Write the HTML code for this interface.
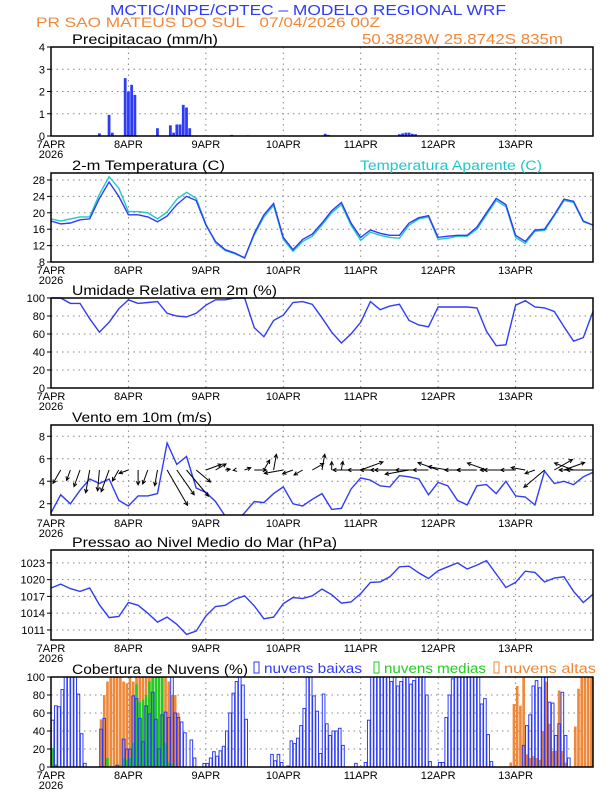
<!DOCTYPE html>
<html><head><meta charset="utf-8"><style>
html,body{margin:0;padding:0;background:#fff;width:612px;height:792px;overflow:hidden}
svg{display:block;font-family:"Liberation Sans",sans-serif}
</style></head><body>
<svg id="s" width="612" height="792" viewBox="0 0 612 792">
<defs><clipPath id="clipw"><rect x="51" y="425" width="542" height="90"/></clipPath></defs>
<text x="110" y="15" font-size="15" fill="#2f3cf5" textLength="396" lengthAdjust="spacingAndGlyphs">MCTIC/INPE/CPTEC &#8211; MODELO REGIONAL WRF</text>
<text x="36" y="27" font-size="14" fill="#f0883a" textLength="344" lengthAdjust="spacingAndGlyphs">PR SAO MATEUS DO SUL&#160;&#160;&#160;07/04/2026 00Z</text>
<text x="362" y="44" font-size="15" fill="#f0883a" textLength="201" lengthAdjust="spacingAndGlyphs">50.3828W 25.8742S 835m</text>
</svg>
<script>
const precipHours=[12,15,18,19,23,24,25,26,33,37,38,39,40,41,42,43,56,61,85,86,108,109,110,111,112,113,165];
const precipVals=[0.02,0.12,0.95,0.15,2.6,2.0,2.3,1.85,0.35,0.48,0.15,0.52,0.52,1.4,1.28,0.35,0.05,0.03,0.1,0.05,0.08,0.12,0.15,0.15,0.1,0.08,0.02];
const tempVals=[18,17.3,17.5,18.3,18.5,23.5,27.5,24,19.5,19.5,19,17.8,19.2,22,24,23,17,13,11,10.2,9,15,19.5,22.3,14,11,13.5,14.8,17.5,20.5,22.5,17.5,14,15.8,15,14.5,14.5,17.5,18.8,19.3,14,14.3,14.5,14.5,16.5,20,23.5,22,14.5,13,15.8,16,19.5,23.3,22.8,18,17];
const appTempVals=[18.5,18,18.5,19,19,24.5,28.8,26,20.3,20.3,20,18.5,20.2,23.3,25,23.5,17.3,12.7,10.8,10,9,14.6,19,21.8,13.5,10.6,13,14.3,17,20,22,17,13.3,15.3,14.5,14,13.8,17,18.5,19,13.5,13.8,14.3,14.3,16,19.5,23,21.5,14,12.5,15.5,15.7,19.3,23,22.5,17.8,17];
const humVals=[100,100,94,94,77,62,73,88,98,94,95,96,83,80,79,83,92,98,98,100,100,67,57,75,81,95,96,93,78,62,50,60,73,96,87,91,93,75,70,68,90,90,90,90,89,63,47,48,92,97,90,89,85,68,52,56,85];
const windSpd=[1.2,2.8,2.0,3.2,4.2,3.8,4.2,2.3,1.8,2.7,2.7,2.9,7.4,5.5,6.2,3.4,3.0,2.2,0.9,0.3,1.2,2.2,2.1,2.9,3.5,2.0,1.8,2.4,2.9,1.5,1.6,3.3,4.3,4.1,3.6,3.5,4.5,4.4,4.2,2.8,3.9,3.6,2.3,1.9,3.6,3.7,2.9,4.0,2.7,2.6,1.9,4.9,3.8,4.0,3.7,4.4,4.8];
const windDir=[200,240,250,250,260,265,250,240,200,270,250,260,-60,-55,-50,-40,20,30,10,190,20,0,60,80,190,200,210,30,80,90,80,180,20,180,180,180,180,190,180,180,160,170,180,180,180,160,180,180,180,170,200,220,30,20,160,180,180];
const presVals=[1018.5,1019.2,1018.4,1017.9,1018.5,1015.5,1013.2,1013.4,1015.9,1015.4,1014,1012.4,1013.3,1012,1010.2,1010.8,1013.5,1015.2,1015.4,1016.5,1017.1,1015.3,1013,1013.3,1015.7,1016.8,1016.6,1017.1,1018.3,1017.3,1015.8,1016,1017.5,1019.5,1019.6,1020.5,1022.3,1022.4,1021.2,1020.2,1021.6,1022.3,1023,1021.9,1022.6,1023.4,1021,1018.6,1019.5,1021.5,1021.3,1019.6,1020.3,1020.5,1017.9,1015.9,1017.4];
const lowCloud=[52,68,67,86,100,100,100,100,81,37,4,0,0,0,0,42,54,0,0,0,2,0,31,20,
20,79,76,54,28,68,59,83,53,20,58,61,55,100,60,55,50,38,0,30,10,0,0,4,
4,10,17,12,18,23,40,60,82,95,100,91,53,0,0,0,0,0,0,0,14,7,14,5,
0,1,29,26,32,46,65,100,100,79,62,15,81,48,35,40,40,43,24,0,0,0,4,0,
0,5,52,100,100,100,100,100,100,95,100,90,95,100,100,92,96,100,100,100,80,6,0,0,
5,5,55,80,98,100,100,100,100,100,100,100,100,70,76,36,6,0,0,0,0,0,0,0,
0,0,24,46,58,90,96,88,100,100,72,71,35,48,83,35,10,0,0,0,0,0,0,0];
const midCloud=[21,3,0,0,0,0,0,0,0,0,0,0,0,0,0,0,0,10,0,0,0,2,10,8,
10,27,92,72,75,80,95,100,100,100,100,27,5,3,0,0,0,0,0,0,0,0,0,0];
const highCloud=[0,0,0,0,0,0,0,0,0,0,0,0,0,0,0,53,80,95,100,100,100,100,95,93,
100,95,100,100,100,100,100,100,100,100,100,100,95,80,80,60,0,0,0,0,0,0,0,0,
0,0,0,0,0,0,0,0,0,0,0,0,0,0,0,0,0,0,0,0,0,0,0,0,
0,0,0,0,0,0,0,0,0,0,0,0,0,0,0,0,0,0,0,0,0,0,0,0,
0,0,0,0,0,0,0,0,0,0,0,0,0,0,0,0,0,0,0,0,0,0,0,0,
0,0,0,0,0,0,0,0,0,0,0,0,0,0,0,0,0,0,0,0,0,0,5,70,
90,68,100,14,10,12,10,8,40,95,48,18,18,85,18,5,0,0,45,87,100,100,100,100];
const dayLabels=["7APR","8APR","9APR","10APR","11APR","12APR","13APR"];

const NS="http://www.w3.org/2000/svg";
const svg=document.getElementById('s');
const X0=51,X1=593,HOURS=168;
const xh=h=>X0+h*(X1-X0)/HOURS;
function el(t,a,p){const e=document.createElementNS(NS,t);for(const k in a)e.setAttribute(k,a[k]);(p||svg).appendChild(e);return e;}
const BLUE="#2f3cf5";

function panel(name,top,bot,vmin,vmax,ticks,title,tlen){
  const g=el('g',{});
  
  
  const y=v=>bot-(v-vmin)/(vmax-vmin)*(bot-top);
  for(let d=1;d<7;d++){const l=el('line',{x1:xh(d*24),x2:xh(d*24),y1:top,y2:bot,stroke:'#888','stroke-dasharray':'1.5,4'},g);
    }
  ticks.forEach(t=>{
    if(t>vmin&&t<vmax){const l=el('line',{x1:X0,x2:X1,y1:y(t),y2:y(t),stroke:'#888','stroke-dasharray':'1.5,4'},g);
      }
    el('line',{x1:X0-4,x2:X0,y1:y(t),y2:y(t),stroke:'#000'},g);
    const tx=el('text',{x:X0-6,y:y(t)+4,'font-size':11,'text-anchor':'end'},g);tx.textContent=t;
    
  });
  dayLabels.forEach((d,i)=>{const tx=el('text',{x:xh(i*24),y:bot+12,'font-size':11,'text-anchor':'middle'},g);tx.textContent=d;
    });
  const yr=el('text',{x:X0,y:bot+22,'font-size':11,'text-anchor':'middle'},g);yr.textContent='2026';
  
  const ta={x:72,y:top-3,'font-size':13.5};
  if(tlen){ta.textLength=tlen;ta.lengthAdjust='spacingAndGlyphs';}
  const tt=el('text',ta,g);tt.textContent=title;
  
  const data=el('g',{},g);
  return {y,g,data,top,bot,finish(){const r=el('rect',{x:X0,y:top,width:X1-X0,height:bot-top,fill:'none',stroke:'#000','stroke-width':1.5},g);
    }};
}
function line(p,vals,step,color,name,parent){
  const pts=vals.map((v,i)=>xh(i*step).toFixed(1)+','+p.y(v).toFixed(1)).join(' ');
  const l=el('polyline',{points:pts,fill:'none',stroke:color,'stroke-width':1.4},parent||p.data);
  
}
// precipitation
const p1=panel('precipitation',47,136,0,4,[0,1,2,3,4],'Precipitacao (mm/h)',146);
precipHours.forEach((h,i)=>{const r=el('rect',{x:xh(h)-1.4,y:p1.y(precipVals[i]),width:2.8,height:p1.bot-p1.y(precipVals[i]),fill:BLUE},p1.data);
  });
p1.finish();
// temperature
const p2=panel('temperature',173,262,8,29.7,[8,12,16,20,24,28],'2-m Temperatura (C)',153);
line(p2,appTempVals,3,'#1ec8c8','apparent-temp-line');
line(p2,tempVals,3,BLUE,'temp-line');
p2.finish();
const at=el('text',{x:360,y:170,'font-size':13.5,fill:'#1ec8c8',textLength:182,lengthAdjust:'spacingAndGlyphs'});at.textContent='Temperatura Aparente (C)';

// humidity
const p3=panel('humidity',298,388,0,100,[0,20,40,60,80,100],'Umidade Relativa em 2m (%)',205);
line(p3,humVals,3,BLUE,'humidity-line');p3.finish();
// wind
const p4=panel('wind',425,515,1,9,[2,4,6,8],'Vento em 10m (m/s)',140);
const wclip=el('g',{'clip-path':'url(#clipw)'},p4.data);
line(p4,windSpd,3,BLUE,'wind-speed-line',wclip);
windSpd.forEach((s,i)=>{const x=xh(i*3),y=p4.y(5),L=s*5.5,a=windDir[i]*Math.PI/180;
  const x2=x+L*Math.cos(a),y2=y-L*Math.sin(a);
  const g=el('g',{},wclip);
  
  el('line',{x1:x,y1:y,x2:x2,y2:y2,stroke:'#000','stroke-width':1},g);
  const h1=a+Math.PI*0.85,h2=a-Math.PI*0.85;
  el('polyline',{points:`${x2+4*Math.cos(h1)},${y2-4*Math.sin(h1)} ${x2},${y2} ${x2+4*Math.cos(h2)},${y2-4*Math.sin(h2)}`,fill:'none',stroke:'#000','stroke-width':1},g);
});
p4.finish();
// pressure
const p5=panel('pressure',550,640,1009.2,1025.3,[1011,1014,1017,1020,1023],'Pressao ao Nivel Medio do Mar (hPa)',265);
line(p5,presVals,3,BLUE,'pressure-line');p5.finish();
// clouds
const p6=panel('cloud',677,767,0,100,[0,20,40,60,80,100],'Cobertura de Nuvens (%)',176);
const bw=(X1-X0)/HOURS;
function bars(vals,fill,stroke,name){vals.forEach((v,h)=>{if(v<=0)return;
  const r=el('rect',{x:xh(h)+0.3,y:p6.y(v),width:bw-0.6,height:p6.bot-p6.y(v),fill:fill,stroke:stroke,'stroke-width':1},p6.data);
  });}
bars(highCloud,'#f0883a','none','high-cloud-bar');
bars(midCloud,'#22cc22','none','mid-cloud-bar');
bars(lowCloud,'none',BLUE,'low-cloud-bar');
p6.finish();
const leg=[["nuvens baixas",BLUE,254,98],["nuvens medias","#22cc22",374,102],["nuvens altas","#f0883a",494,92]];
leg.forEach(([t,c,x,w])=>{const g=el('g',{});
  
  el('rect',{x:x,y:662,width:5,height:11,fill:'none',stroke:c},g);
  const tx=el('text',{x:x+10,y:673,'font-size':13.5,fill:c,textLength:w,lengthAdjust:'spacingAndGlyphs'},g);tx.textContent=t;});
</script>
</body></html>
